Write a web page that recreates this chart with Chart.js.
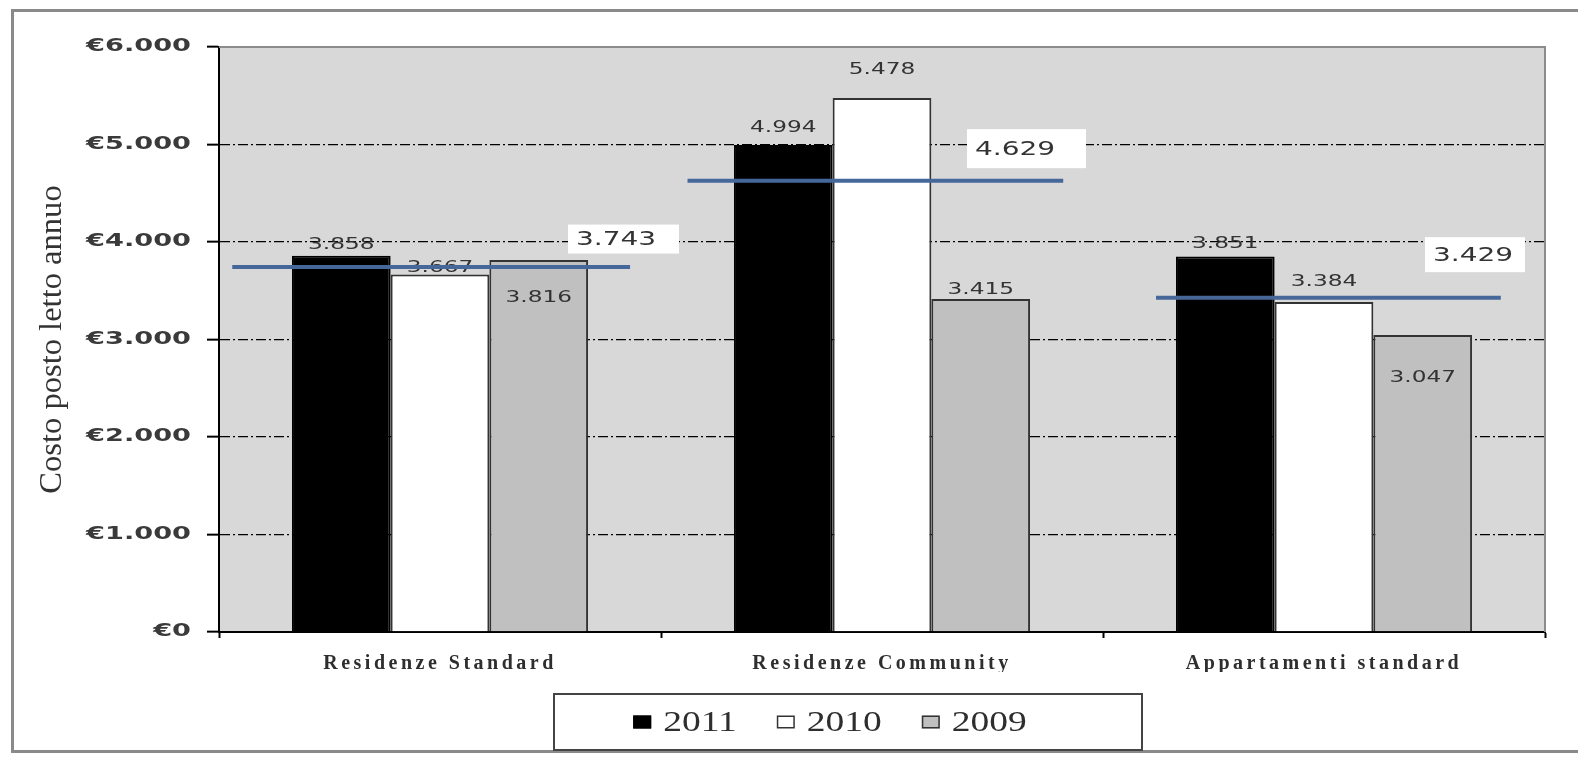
<!DOCTYPE html>
<html>
<head>
<meta charset="utf-8">
<title>Costo posto letto annuo</title>
<script src="https://cdn.jsdelivr.net/npm/chart.js@4.4.1/dist/chart.umd.min.js"></script>
<style>
  html, body { margin: 0; padding: 0; background: #ffffff; }
  #wrap { width: 1578px; height: 758px; position: relative; }
  canvas { display: block; }
</style>
</head>
<body>
<div id="wrap"><canvas id="chart" width="1578" height="758"></canvas></div>
<script>
// ---- data ----
const categories = ['Residenze Standard', 'Residenze Community', 'Appartamenti standard'];
const years = ['2011', '2010', '2009'];
const costs2011 = [3858, 4994, 3851];
const costs2010 = [3667, 5478, 3384];
const costs2009 = [3816, 3415, 3047];
const averages = [3743, 4629, 3429];
const yTickValues = [0, 1000, 2000, 3000, 4000, 5000, 6000];
const yTitle = 'Costo posto letto annuo';

// ---- styling ----
const seriesValues = [costs2011, costs2010, costs2009];
const barFill = ['#000000', '#ffffff', '#c0c0c0'];
const barEdge = ['#000000', '#333333', '#333333'];
const avgColor = '#46679a';
const textColor = '#2e2e2e';
// vertical offset (px) of each value label from its bar top, per series / category
const barLabelDy = [[-11, -17, -13], [-7, -28, -20], [38, -9, 43]];
// extent of each average line, in category widths around the category centre
const avgSpan = [[-0.47, 0.43], [-0.44, 0.41], [-0.38, 0.40]];
// average value boxes: offset from category centre, size, offset above the line
const avgBox = [
  { dx: 128, w: 111, h: 29, dy: -28 },
  { dx: 85,  w: 119, h: 39, dy: -32 },
  { dx: 101, w: 100, h: 35, dy: -43 }
];

const fmt = v => String(Math.round(v)).replace(/\B(?=(\d{3})+(?!\d))/g, '.');
const euro = v => '€' + fmt(v);

// text drawn with a horizontal stretch around its anchor point
function wideText(ctx, text, x, y, sx, align) {
  ctx.save();
  ctx.translate(x, y);
  ctx.scale(sx, 1);
  ctx.textAlign = align || 'center';
  ctx.fillText(text, 0, 0);
  ctx.restore();
}

// per-axis label rendering tweaks
function wrapLabels(scale, prep) {
  if (scale.$wrapped) return;
  const orig = scale.drawLabels;
  scale.drawLabels = function (area) {
    const ctx = this.ctx;
    ctx.save();
    prep(ctx, this);
    orig.call(this, area);
    ctx.restore();
  };
  scale.$wrapped = true;
}

const datasets = years.map((y, i) => ({
  label: y,
  data: seriesValues[i],
  backgroundColor: barFill[i],
  borderColor: barEdge[i],
  borderWidth: 2,
  borderSkipped: 'bottom',
  categoryPercentage: 0.67,
  barPercentage: 1.0
}));

const decor = {
  id: 'decor',
  beforeDraw(chart) {
    const { ctx, chartArea: a, scales } = chart;
    // y labels: stretched wide, right edge kept in place
    wrapLabels(scales.y, (c, s) => {
      const r = s.right - s.options.grid.tickLength - s.options.ticks.padding;
      c.translate(r, 0);
      c.scale(1.6, 1);
      c.translate(-r, 0);
    });
    // x labels: spaced out
    wrapLabels(scales.x, c => { c.letterSpacing = '3.5px'; });

    ctx.save();
    ctx.fillStyle = '#ffffff';
    ctx.fillRect(0, 0, chart.width, chart.height);
    // outer frame
    ctx.strokeStyle = '#8a8a8a';
    ctx.lineWidth = 3;
    ctx.strokeRect(12.5, 10.5, chart.width + 20, 741);
    // plot background
    ctx.fillStyle = '#d8d8d8';
    ctx.fillRect(a.left, a.top, a.right - a.left, a.bottom - a.top);
    ctx.restore();
  },
  afterDatasetDraw(chart, args) {
    const ds = chart.data.datasets[args.index];
    const { ctx } = chart;
    const si = args.index;
    ctx.save();
    ctx.font = '16px "DejaVu Sans", sans-serif';
    ctx.fillStyle = '#333333';
    ctx.textBaseline = 'middle';
    args.meta.data.forEach((bar, ci) => {
      wideText(ctx, fmt(ds.data[ci]), bar.x, bar.y + barLabelDy[si][ci], 1.45, 'center');
    });
    ctx.restore();
  },
  afterDatasetsDraw(chart) {
    const { ctx, scales } = chart;
    const catW = scales.x.getPixelForValue(1) - scales.x.getPixelForValue(0);
    ctx.save();
    // average lines
    ctx.strokeStyle = avgColor;
    ctx.lineWidth = 4;
    averages.forEach((v, i) => {
      const cx = scales.x.getPixelForValue(i);
      const y = scales.y.getPixelForValue(v);
      ctx.beginPath();
      ctx.moveTo(cx + avgSpan[i][0] * catW, y);
      ctx.lineTo(cx + avgSpan[i][1] * catW, y);
      ctx.stroke();
    });
    // average value boxes
    ctx.font = '20px "DejaVu Sans", sans-serif';
    ctx.textBaseline = 'middle';
    averages.forEach((v, i) => {
      const b = avgBox[i];
      const cx = scales.x.getPixelForValue(i);
      const cy = scales.y.getPixelForValue(v) + b.dy;
      ctx.fillStyle = '#ffffff';
      ctx.fillRect(cx + b.dx, cy - b.h / 2, b.w, b.h);
      ctx.fillStyle = '#333333';
      wideText(ctx, fmt(v), cx + b.dx + 8, cy + 1, 1.4, 'left');
    });
    ctx.restore();
  },
  afterDraw(chart) {
    const { ctx, chartArea: a } = chart;
    ctx.save();
    // plot border top / right
    ctx.strokeStyle = '#8c8c8c';
    ctx.lineWidth = 2;
    ctx.beginPath();
    ctx.moveTo(a.left, a.top);
    ctx.lineTo(a.right, a.top);
    ctx.lineTo(a.right, a.bottom);
    ctx.stroke();

    // y axis title
    ctx.save();
    ctx.translate(53, (a.top + a.bottom) / 2);
    ctx.rotate(-Math.PI / 2);
    ctx.font = '31px "Liberation Serif", serif';
    ctx.fillStyle = '#333333';
    ctx.textBaseline = 'middle';
    wideText(ctx, yTitle, 0, 0, 1.05, 'center');
    ctx.restore();

    // legend
    const lx = 554, ly = 694, lw = 588, lh = 56;
    ctx.fillStyle = '#ffffff';
    ctx.fillRect(lx, ly, lw, lh);
    ctx.strokeStyle = '#444444';
    ctx.lineWidth = 2;
    ctx.strokeRect(lx, ly, lw, lh);
    ctx.font = '30px "Liberation Serif", serif';
    ctx.textBaseline = 'middle';
    const sx = 1.25;
    const bars = chart.data.datasets;
    const mW = 18, mH = 13, mGap = 12, itemGap = 40;
    const widths = bars.map(d => mW + mGap + ctx.measureText(d.label).width * sx);
    const total = widths.reduce((s, w) => s + w, 0) + itemGap * (bars.length - 1);
    let x = lx + lw / 2 - total / 2 - 18;
    const cy = ly + lh / 2;
    bars.forEach((d, i) => {
      ctx.fillStyle = d.backgroundColor;
      ctx.fillRect(x, cy - mH / 2, mW, mH);
      ctx.strokeStyle = d.borderColor;
      ctx.lineWidth = 1.5;
      ctx.strokeRect(x + 0.75, cy - mH / 2 + 0.75, mW - 1.5, mH - 1.5);
      ctx.fillStyle = textColor;
      wideText(ctx, d.label, x + mW + mGap, cy + 1, sx, 'left');
      x += widths[i] + itemGap;
    });
    ctx.restore();
  }
};

new Chart(document.getElementById('chart'), {
  type: 'bar',
  data: { labels: categories, datasets },
  options: {
    responsive: false,
    animation: false,
    layout: { padding: { left: 0, right: 33, top: 47, bottom: 86 } },
    plugins: { legend: { display: false }, tooltip: { enabled: false } },
    scales: {
      x: {
        type: 'category',
        offset: true,
        grid: { display: true, offset: true, drawOnChartArea: false, drawTicks: true, tickLength: 6, tickColor: '#000000', tickWidth: 2 },
        border: { display: true, color: '#000000', width: 2 },
        ticks: {
          color: textColor,
          font: { family: '"Liberation Serif", serif', size: 20, weight: 'bold' },
          padding: 14,
          maxRotation: 0,
          autoSkip: false
        },
        afterFit: s => { s.height = 40; }
      },
      y: {
        min: yTickValues[0],
        max: yTickValues[yTickValues.length - 1],
        afterBuildTicks: s => { s.ticks = yTickValues.map(v => ({ value: v })); },
        ticks: {
          callback: v => euro(v),
          color: '#3a3a3a',
          font: { family: '"DejaVu Sans", sans-serif', size: 17, weight: 'bold' },
          padding: 16
        },
        grid: {
          color: c => (c.tick && (c.tick.value === 0 || c.tick.value === 6000)) ? 'rgba(0,0,0,0)' : '#000000',
          lineWidth: 1.3,
          drawTicks: true,
          tickLength: 12,
          tickColor: '#000000',
          tickWidth: 2
        },
        border: { display: true, color: '#000000', width: 2, dash: [10, 3, 2, 3] },
        afterFit: s => { s.width = 219; }
      }
    }
  },
  plugins: [decor]
});
</script>
</body>
</html>
